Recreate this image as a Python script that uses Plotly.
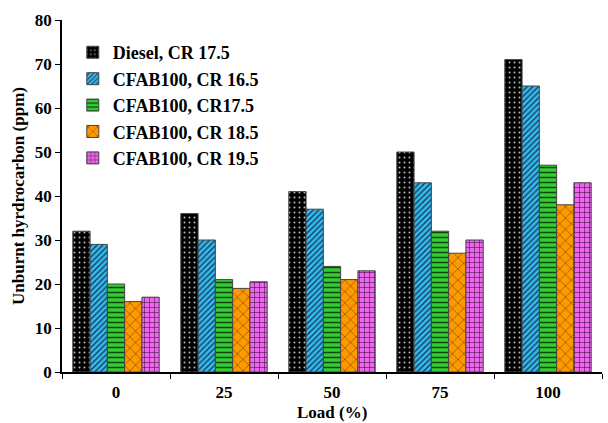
import plotly.graph_objects as go

loads = ["0", "25", "50", "75", "100"]
series_names = ["Diesel, CR 17.5", "CFAB100, CR 16.5", "CFAB100, CR17.5",
                "CFAB100, CR 18.5", "CFAB100, CR 19.5"]
diesel_175 = [32, 36, 41, 50, 71]
cfab_165 = [29, 30, 37, 43, 65]
cfab_175 = [20, 21, 24, 32, 47]
cfab_185 = [16, 19, 21, 27, 38]
cfab_195 = [17, 20.5, 23, 30, 43]
y_ticks = [0, 10, 20, 30, 40, 50, 60, 70, 80]

values = [diesel_175, cfab_165, cfab_175, cfab_185, cfab_195]
styles = [
    dict(bg="#000000", fg="#bbbbbb", shape=".", size=5, sol=0.12),
    dict(bg="#33bbee", fg="#153050", shape="/", size=4, sol=0.3),
    dict(bg="#33cc33", fg="#114411", shape="-", size=5, sol=0.3),
    dict(bg="#ff9900", fg="#553300", shape="x", size=8, sol=0.12),
    dict(bg="#ee66ee", fg="#441144", shape="+", size=5, sol=0.22),
]

font = "Liberation Serif"
fig = go.Figure()
for name, vals, st in zip(series_names, values, styles):
    fig.add_trace(go.Bar(
        x=loads, y=vals, name=name,
        marker=dict(
            color=st["bg"],
            line=dict(color="#444444", width=1),
            pattern=dict(shape=st["shape"], fgcolor=st["fg"], bgcolor=st["bg"],
                         size=st["size"], solidity=st["sol"], fillmode="replace"),
        ),
    ))

fig.update_layout(
    width=608, height=423,
    margin=dict(l=62, r=6, t=20, b=51),
    paper_bgcolor="white", plot_bgcolor="white",
    barmode="group", bargap=0.2, bargroupgap=0,
    font=dict(family=font, size=17, color="black"),
    legend=dict(x=0.02, y=0.96, xanchor="left", yanchor="top",
                bgcolor="rgba(0,0,0,0)", tracegroupgap=8,
                font=dict(family=font, size=18, color="black", weight="bold"),
                itemwidth=30),
    showlegend=True,
    annotations=[dict(text="Load (%)", xref="paper", yref="paper", x=0.5, y=-0.114,
                      xanchor="center", yanchor="middle", showarrow=False,
                      font=dict(family=font, size=17, weight="bold", color="black"))],
)
fig.update_xaxes(
    type="category", showgrid=False, showline=True, linecolor="black", linewidth=1.5,
    ticks="outside", tickson="boundaries", ticklen=5, tickcolor="black",
    ticklabelstandoff=4, automargin=False,
    tickfont=dict(family=font, size=17, weight="bold"),
)
fig.update_yaxes(
    range=[0, 80], tickvals=y_ticks, showgrid=False, zeroline=False,
    showline=True, linecolor="black", linewidth=1.5,
    ticks="outside", ticklen=5, tickcolor="black",
    tickfont=dict(family=font, size=17, weight="bold"),
    title=dict(text="Unburnt hyrdrocarbon (ppm)", font=dict(family=font, size=17, weight="bold"), standoff=6),
)

fig.write_html("out.html")
